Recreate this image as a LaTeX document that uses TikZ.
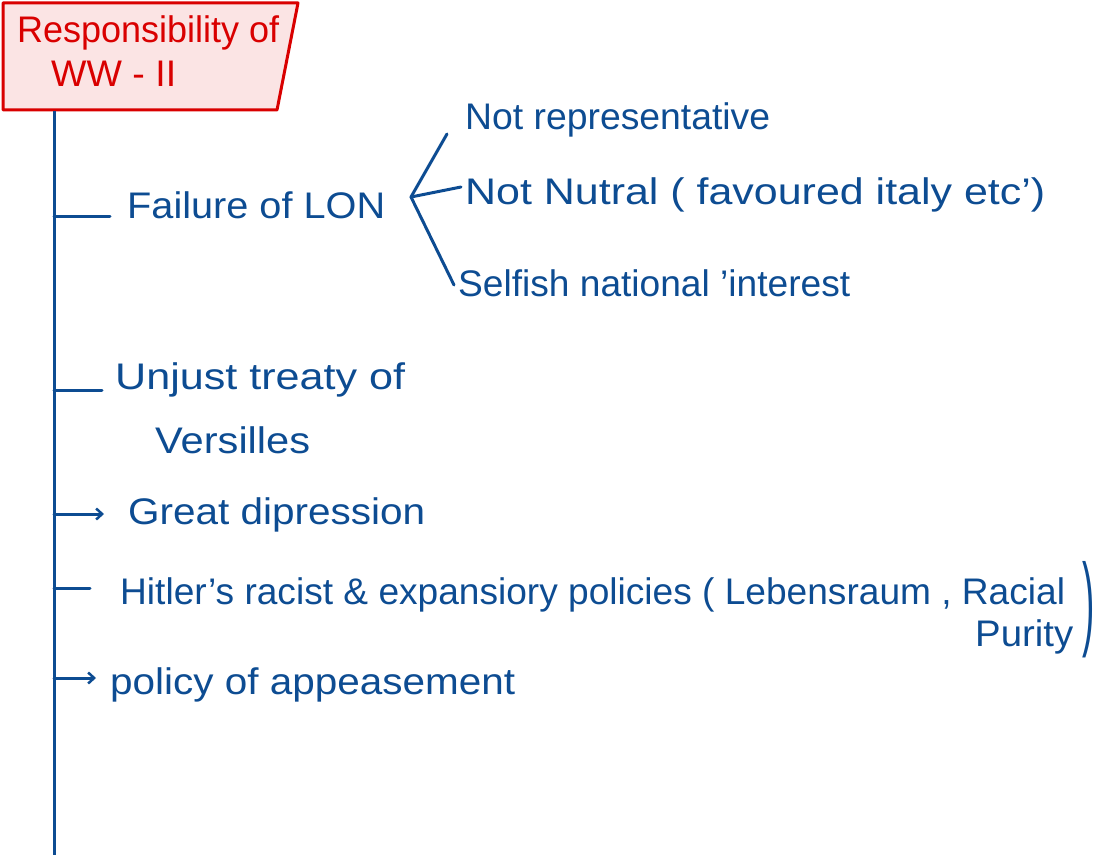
\documentclass[tikz,border=0pt]{standalone}
\usepackage{fontspec}
\setmainfont{Liberation Sans}
\usepackage{graphicx}
\usetikzlibrary{arrows.meta}
\definecolor{ink}{HTML}{0D4C92}
\definecolor{redink}{HTML}{D90000}
\definecolor{pinkfill}{HTML}{FBE4E4}
\newcommand\hwtext[2]{\resizebox{#1pt}{\height}{#2}}
\begin{document}
\begin{tikzpicture}[x=1pt,y=-1pt,
  hand/.style={font=\fontsize{37}{44}\selectfont, text=ink, inner sep=0pt, anchor=west},
  stroke/.style={draw=ink, line width=3pt, line cap=round},
  arr/.style={stroke, -{Straight Barb[length=6pt,width=11pt,line width=2.5pt]}}]
\useasboundingbox (0,0) rectangle (1099,856);
% title box
\coordinate (tl) at (3,3);
\coordinate (tr) at (298,3);
\coordinate (br) at (277,110);
\coordinate (bl) at (3,110);
\draw[draw=redink, fill=pinkfill, line width=3pt, line join=round] (tl) -- (tr) -- (br) -- (bl) -- cycle;
\node[font=\fontsize{37}{44}\selectfont, text=redink, align=left, anchor=north west, inner sep=0pt] (title) at (17,15) {\hwtext{262}{Responsibility of}\\\hspace*{34pt}\hwtext{125}{WW - II}};
% spine
\coordinate (s0) at (54,111);
\coordinate (s1) at (54,855);
\draw[stroke, line cap=butt] (s0) -- (s1);
% Failure of LON
\coordinate (b1a) at (54,216);
\coordinate (b1b) at (110,216);
\draw[stroke] (b1a) -- (b1b);
\node[hand] (lon) at (127,205) {\hwtext{258}{Failure of LON}};
\coordinate (fork) at (411,197);
\node[hand] (nr) at (465,120) {\hwtext{305}{Not representative}};
\node[hand] (nn) at (465,195) {\hwtext{580}{Not Nutral ( favoured italy etc')}};
\node[hand] (sn) at (458,283) {\hwtext{392}{Selfish national 'interest}};
\draw[stroke] (fork) -- ([xshift=-18pt,yshift=-14pt]nr.west);
\draw[stroke] (fork) -- ([xshift=-4pt,yshift=8pt]nn.west);
\draw[stroke] (fork) -- ([xshift=-4pt,yshift=-2pt]sn.west);
% Unjust treaty
\coordinate (b2a) at (54,390);
\coordinate (b2b) at (102,390);
\draw[stroke] (b2a) -- (b2b);
\node[hand] (ut) at (115,380) {\hwtext{290}{Unjust treaty of}};
\node[hand] (vs) at (155,440) {\hwtext{155}{Versilles}};
% Great depression
\coordinate (b3a) at (54,514);
\coordinate (b3b) at (104,514);
\draw[arr] (b3a) -- (b3b);
\node[hand] (gd) at (128,515) {\hwtext{297}{Great dipression}};
% Hitler
\coordinate (b4a) at (54,588);
\coordinate (b4b) at (90,588);
\draw[stroke] (b4a) -- (b4b);
\node[hand] (hp) at (120,595) {\hwtext{945}{Hitler's racist \& expansiory policies ( Lebensraum , Racial}};
\node[hand] (pu) at (975,637) {\hwtext{98}{Purity}};
\node[font=\fontsize{37}{44}\selectfont, text=ink, inner sep=0pt] (rp) at (1089,610) {\scalebox{1}[2.8]{)}};
% Policy
\coordinate (b5a) at (54,678);
\coordinate (b5b) at (96,678);
\draw[arr] (b5a) -- (b5b);
\node[hand] (pa) at (110,685) {\hwtext{405}{policy of appeasement}};
\end{tikzpicture}
\end{document}
